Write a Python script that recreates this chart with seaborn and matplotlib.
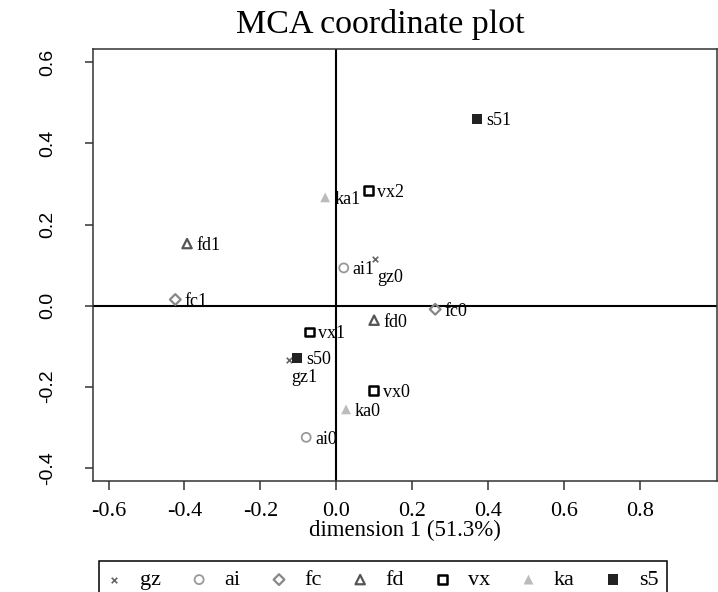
import matplotlib
matplotlib.use("Agg")
import matplotlib.pyplot as plt
import pandas as pd
import seaborn as sns

# MCA category coordinates (dimension 1, dimension 2)
labels = ["gz0", "gz1", "ai0", "ai1", "fc0", "fc1", "fd0", "fd1",
          "vx0", "vx1", "vx2", "ka0", "ka1", "s50", "s51"]
groups = ["gz", "gz", "ai", "ai", "fc", "fc", "fd", "fd",
          "vx", "vx", "vx", "ka", "ka", "s5", "s5"]
dim1 = [0.103, -0.124, -0.079, 0.020, 0.261, -0.424, 0.100, -0.393,
        0.099, -0.071, 0.085, 0.026, -0.029, -0.103, 0.372]
dim2 = [0.114, -0.134, -0.325, 0.093, -0.009, 0.015, -0.036, 0.153,
        -0.210, -0.065, 0.283, -0.256, 0.267, -0.129, 0.461]
group_order = ["gz", "ai", "fc", "fd", "vx", "ka", "s5"]
x_ticks = [-0.6, -0.4, -0.2, 0.0, 0.2, 0.4, 0.6, 0.8]
y_ticks = [-0.4, -0.2, 0.0, 0.2, 0.4, 0.6]

df = pd.DataFrame({"label": labels, "group": groups, "x": dim1, "y": dim2})

styles = {
    "gz": dict(marker="x", color="#666666", s=16, linewidth=1.2),
    "ai": dict(marker="o", facecolor="none", edgecolor="#999999", s=42, linewidth=1.3),
    "fc": dict(marker="D", facecolor="none", edgecolor="#888888", s=30, linewidth=1.6),
    "fd": dict(marker="^", facecolor="none", edgecolor="#555555", s=45, linewidth=1.6),
    "vx": dict(marker="s", facecolor="none", edgecolor="black", s=40, linewidth=1.8),
    "ka": dict(marker="^", color="#bbbbbb", edgecolor="none", s=50),
    "s5": dict(marker="s", color="#222222", edgecolor="none", s=55),
}

plt.rcParams["font.family"] = "Liberation Serif"

fig = plt.figure(figsize=(7.18, 5.92), dpi=100)
ax = fig.add_axes([0.130, 0.188, 0.8693, 0.7292])

ax.axhline(0, color="black", lw=1.5, zorder=1)
ax.axvline(0, color="black", lw=1.5, zorder=1)

for g in group_order:
    sub = df[df["group"] == g]
    sns.scatterplot(data=sub, x="x", y="y", ax=ax, label=g, zorder=3, **styles[g])
if ax.get_legend() is not None:
    ax.get_legend().remove()

for _, r in df.iterrows():
    if r["group"] == "gz":
        ax.annotate(r["label"], (r["x"], r["y"]), xytext=(11, -13),
                    textcoords="offset points", ha="center", va="center",
                    fontsize=13)
    else:
        ax.annotate(r["label"], (r["x"], r["y"]), xytext=(6.5, 0),
                    textcoords="offset points", ha="left",
                    va="center_baseline", fontsize=13)

ax.set_xlim(-0.640, 1.005)
ax.set_ylim(-0.432, 0.633)
ax.set_xticks(x_ticks)
ax.set_xticklabels([f"{v:.1f}" for v in x_ticks], fontsize=16)
ax.set_yticks(y_ticks)
ax.set_yticklabels([f"{v:.1f}" for v in y_ticks], fontsize=14,
                   family="Liberation Sans", rotation=90, va="center")
ax.tick_params(axis="x", length=6.5, width=1.1, color="#333333", pad=9)
ax.tick_params(axis="y", length=6, width=1.1, color="#333333", pad=21)
for sp in ax.spines.values():
    sp.set_color("#333333")
    sp.set_linewidth(1.1)

ax.set_xlabel("dimension 1 (51.3%)", fontsize=16.5, labelpad=-1)
ax.set_ylabel("")

fig.text(380 / 718, 1 - 33 / 592, "MCA coordinate plot", fontsize=24.5,
         ha="center", va="baseline")

handles, lbls = ax.get_legend_handles_labels()
leg = fig.legend(handles, lbls, loc="upper center", ncol=7,
                 bbox_to_anchor=(383 / 718, 1 - 561 / 592), fontsize=16,
                 frameon=True, fancybox=False, framealpha=1, edgecolor="black",
                 borderaxespad=0, borderpad=0.4, handlelength=0.6,
                 handletextpad=0.85, columnspacing=1.42, scatterpoints=1)
leg.get_frame().set_linewidth(1.1)

fig.savefig("out.png", dpi=100)
